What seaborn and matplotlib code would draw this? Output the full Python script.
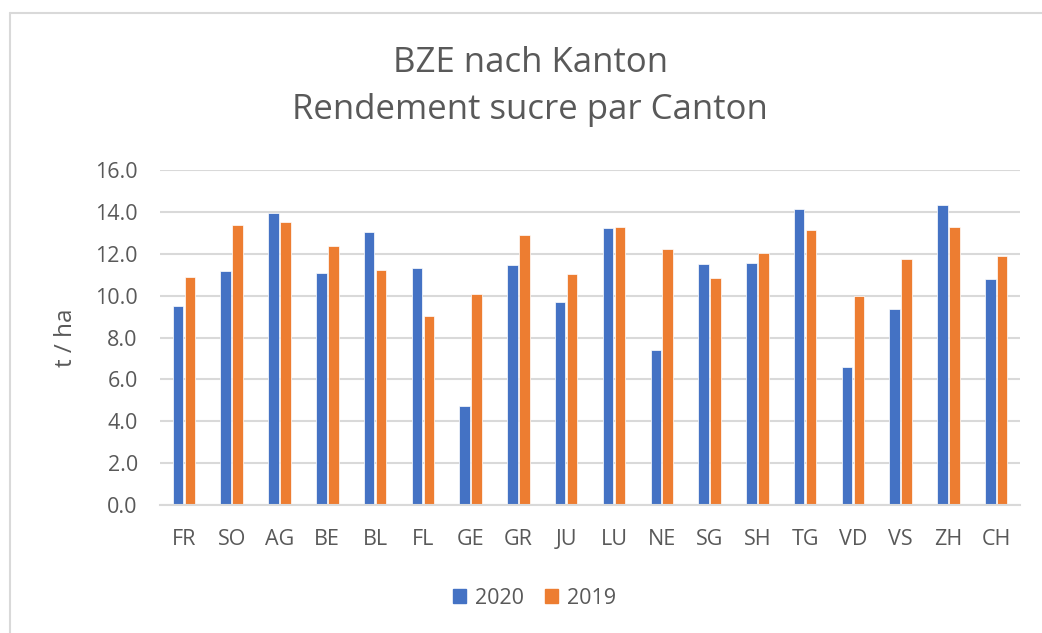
import matplotlib
matplotlib.use("Agg")
import matplotlib.pyplot as plt
import seaborn as sns
import pandas as pd
from matplotlib.patches import Rectangle
from matplotlib.lines import Line2D

cantons = ["FR", "SO", "AG", "BE", "BL", "FL", "GE", "GR", "JU", "LU", "NE", "SG",
           "SH", "TG", "VD", "VS", "ZH", "CH"]
vals_2020 = [9.5, 11.2, 13.95, 11.1, 13.05, 11.3, 4.72, 11.45, 9.7, 13.25, 7.4, 11.5,
             11.55, 14.15, 6.6, 9.38, 14.35, 10.78]
vals_2019 = [10.9, 13.37, 13.5, 12.38, 11.22, 9.05, 10.1, 12.9, 11.05, 13.3, 12.25, 10.85,
             12.03, 13.15, 9.98, 11.77, 13.28, 11.9]
series = ["2020", "2019"]
colors = ["#4472C4", "#ED7D31"]
title_lines = ["BZE nach Kanton", "Rendement sucre par Canton"]
y_label = "t / ha"
y_ticks = [0, 2, 4, 6, 8, 10, 12, 14, 16]

df = pd.DataFrame({
    "Kanton": cantons * 2,
    "Jahr": [series[0]] * len(cantons) + [series[1]] * len(cantons),
    "Wert": vals_2020 + vals_2019,
})

sns.set_theme(style="white")
plt.rcParams["font.family"] = ["Open Sans", "DejaVu Sans"]
txt = "#595959"

fig = plt.figure(figsize=(10.42, 6.33), dpi=100)
ax = fig.add_axes([0.1536, 0.2022, 0.979 - 0.1536, 0.7314 - 0.2022])

sns.barplot(data=df, x="Kanton", y="Wert", hue="Jahr", hue_order=series,
            palette=colors, width=0.5, gap=0.12, ax=ax, saturation=1,
            edgecolor="white", linewidth=0.5, legend=False, errorbar=None)

ax.set_ylim(0, 16)
ax.set_xlim(-0.5, len(cantons) - 0.5)
ax.set_yticks(y_ticks)
ax.set_yticklabels([f"{v:.1f}" for v in y_ticks])
ax.yaxis.grid(True, color="#D9D9D9", linewidth=1.5)
ax.set_axisbelow(True)
for s in ["top", "right", "left"]:
    ax.spines[s].set_visible(False)
ax.spines["bottom"].set_color("#D9D9D9")
ax.spines["bottom"].set_linewidth(1.5)
ax.tick_params(axis="both", length=0, labelsize=15.5, colors=txt)
ax.tick_params(axis="x", pad=17)
ax.tick_params(axis="y", pad=16)
ax.set_xlabel("")
ax.set_ylabel("")
fig.text(66 / 1042, 1 - 338 / 633, y_label, rotation=90, ha="center", va="center",
         fontsize=17.5, color=txt)

fig.text(0.509, 0.900, title_lines[0], ha="center", va="center", fontsize=25, color=txt)
fig.text(0.509, 0.826, title_lines[1], ha="center", va="center", fontsize=25, color=txt)

# legend
handles = [Rectangle((0, 0), 1, 1, color=c) for c in colors]
fig.legend(handles, series, loc="center", bbox_to_anchor=(0.513, 0.055), ncol=2,
           frameon=False, fontsize=15.5, handlelength=0.6, handleheight=0.6,
           columnspacing=1.0, handletextpad=0.4, labelcolor=txt)

# chart frame (left and top edges visible)
fig.add_artist(Line2D([9.5 / 1042, 9.5 / 1042], [0, 1 - 13 / 633], transform=fig.transFigure,
                      color="#D9D9D9", linewidth=1.5))
fig.add_artist(Line2D([9.5 / 1042, 1], [1 - 13 / 633, 1 - 13 / 633], transform=fig.transFigure,
                      color="#D9D9D9", linewidth=1.5))

fig.savefig("out.png", dpi=100)
